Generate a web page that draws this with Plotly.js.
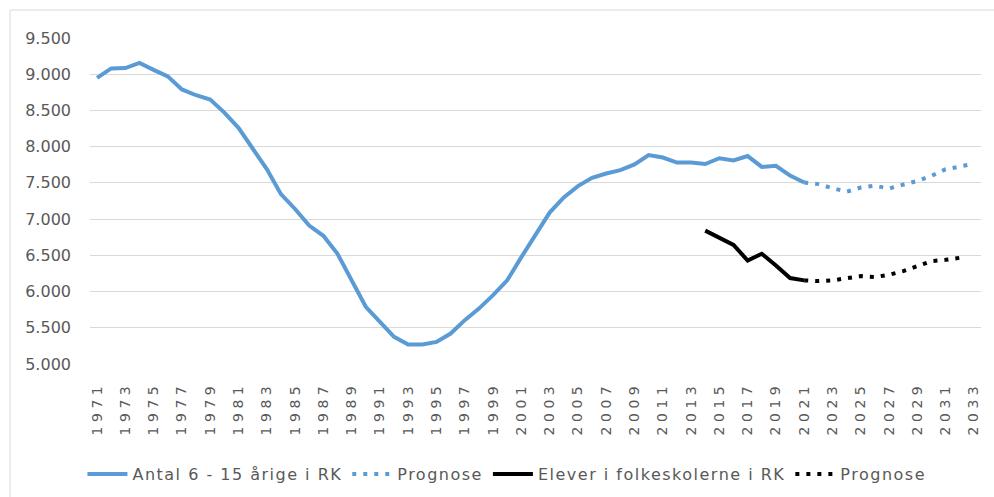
<!DOCTYPE html>
<html>
<head>
<meta charset="utf-8">
<script src="https://cdn.plot.ly/plotly-3.0.1.min.js"></script>
<style>
  html, body { margin: 0; padding: 0; background: #fff; }
  #chart { width: 994px; height: 497px; }
  .xtick text { letter-spacing: 4.5px; }
  .legendtext { letter-spacing: 1.5px; }
</style>
</head>
<body>
<div id="chart"></div>
<script>
// Historical years (actual data)
const yearsHist = [1971,1972,1973,1974,1975,1976,1977,1978,1979,1980,
  1981,1982,1983,1984,1985,1986,1987,1988,1989,1990,
  1991,1992,1993,1994,1995,1996,1997,1998,1999,2000,
  2001,2002,2003,2004,2005,2006,2007,2008,2009,2010,
  2011,2012,2013,2014,2015,2016,2017,2018,2019,2020,2021];
// Antal 6 - 15 årige i RK
const antal = [8950,9080,9085,9155,9060,8970,8790,8710,8650,8470,
  8260,7985,7690,7345,7140,6910,6770,6520,6155,5790,
  5580,5375,5270,5270,5305,5420,5605,5765,5950,6155,
  6475,6770,7090,7300,7455,7570,7630,7675,7755,7885,
  7850,7780,7780,7760,7840,7810,7870,7720,7735,7600,7505];

// Prognose for 6-15 årige
const yearsProgA = [2021,2022,2023,2024,2025,2026,2027,2028,2029,2030,2031,2032,2033];
const antalProg = [7505,7483,7428,7377,7436,7460,7423,7473,7528,7597,7689,7725,7766];

// Elever i folkeskolerne i RK
const yearsElev = [2014,2015,2016,2017,2018,2019,2020,2021];
const elever = [6841,6749,6644,6429,6521,6360,6186,6154];

// Prognose for elever
const yearsProgE = [2021,2022,2023,2024,2025,2026,2027,2028,2029,2030,2031,2032];
const eleverProg = [6154,6145,6154,6186,6213,6200,6232,6282,6347,6420,6438,6466];

const names = ["Antal 6 - 15 årige i RK", "Prognose", "Elever i folkeskolerne i RK", "Prognose"];

const blue = "#5B9BD5";
const black = "#000000";

const traces = [
  {x: yearsHist, y: antal, name: names[0], type: "scatter", mode: "lines",
   line: {color: blue, width: 4}},
  {x: yearsProgA, y: antalProg, name: names[1], type: "scatter", mode: "lines",
   line: {color: blue, width: 4, dash: "4px,7px"}},
  {x: yearsElev, y: elever, name: names[2], type: "scatter", mode: "lines",
   line: {color: black, width: 4}},
  {x: yearsProgE, y: eleverProg, name: names[3], type: "scatter", mode: "lines",
   line: {color: black, width: 4, dash: "4px,7px"}}
];

const M = {l: 90, r: 13, t: 38, b: 133};
const W = 994, H = 497;
const pw = W - M.l - M.r, ph = H - M.t - M.b;
const px = v => (v - M.l) / pw;
const py = v => (H - M.b - v) / ph;

const layout = {
  width: W, height: H,
  margin: M,
  paper_bgcolor: "#ffffff",
  plot_bgcolor: "#ffffff",
  showlegend: true,
  font: {family: "DejaVu Sans, sans-serif", color: "#595959"},
  xaxis: {
    range: [1970.5, 2033.5],
    tickmode: "linear", tick0: 1971, dtick: 2,
    tickangle: -90,
    showgrid: false, zeroline: false,
    showline: false, automargin: false,
    ticks: "", ticklabelstandoff: 14,
    tickfont: {family: "DejaVu Sans, sans-serif", size: 14, color: "#595959"},
    fixedrange: true
  },
  yaxis: {
    range: [5000, 9500],
    tickmode: "linear", tick0: 5000, dtick: 500,
    tickformat: ",d",
    showgrid: true, gridcolor: "#D9D9D9", gridwidth: 1,
    zeroline: false, showline: false, ticks: "", automargin: false,
    ticklabelstandoff: 18,
    tickfont: {family: "DejaVu Sans, sans-serif", size: 16, color: "#595959"},
    fixedrange: true
  },
  separators: ",.",
  legend: {
    orientation: "h",
    xref: "container", yref: "container",
    x: 0.51, xanchor: "center",
    y: (H - 474) / H, yanchor: "middle",
    font: {family: "DejaVu Sans, sans-serif", size: 16, color: "#595959"},
    itemwidth: 40,
    traceorder: "normal"
  },
  shapes: [
    {type: "rect", xref: "paper", yref: "paper",
     x0: px(10), x1: px(1010), y0: py(520), y1: py(10),
     line: {color: "#D9D9D9", width: 1}, fillcolor: "rgba(0,0,0,0)", layer: "below"}
  ]
};

Plotly.newPlot("chart", traces, layout, {displayModeBar: false, staticPlot: true});
</script>
</body>
</html>
